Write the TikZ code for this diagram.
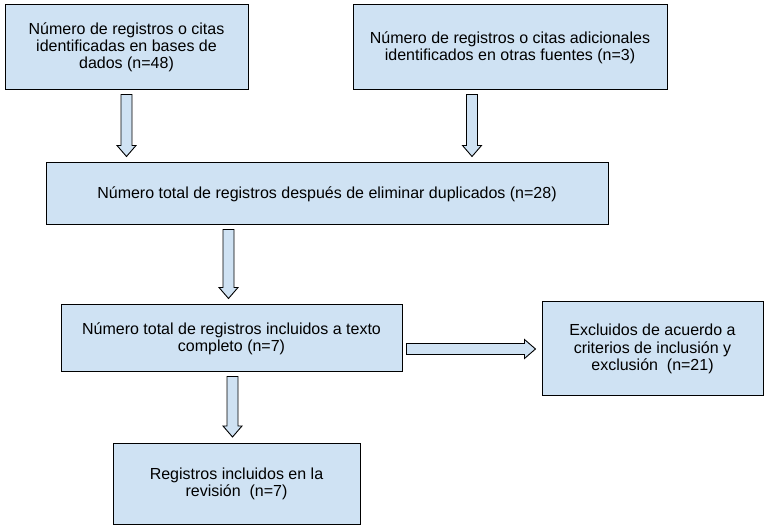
\documentclass[tikz,border=0pt]{standalone}
\usepackage{fontspec}
\setmainfont{Liberation Sans}
\usetikzlibrary{calc}
\definecolor{boxblue}{HTML}{CFE2F3}

\begin{document}
\begin{tikzpicture}[x=1pt,y=1pt]

\tikzstyle{box}=[rectangle, draw=black, line width=1pt, fill=boxblue, align=center, inner sep=0pt, font=\fontsize{16}{17.2}\selectfont]
\tikzstyle{blockarrow}=[draw=black, line width=0.9pt, fill=boxblue,
  to path={let \p1=($(\tikztostart)!4pt!(\tikztotarget)$), \p2=($(\tikztotarget)!6pt!(\tikztostart)$), \p3=($(\p2)!11pt!(\p1)$) in
    ($(\p1)!5.5pt!90:(\p2)$) -- ($(\p3)!5.5pt!-90:(\p1)$) -- ($(\p3)!9.5pt!-90:(\p1)$) -- (\p2)
    -- ($(\p3)!9.5pt!90:(\p1)$) -- ($(\p3)!5.5pt!90:(\p1)$) -- ($(\p1)!5.5pt!-90:(\p2)$) -- cycle}]

\useasboundingbox (0,0) rectangle (765,526);

\node (b1) [box, minimum width=243pt, minimum height=85pt] at (126.5,478.5)
  {Número de registros o citas\\ identificadas en bases de\\ dados (n=48)};

\node (b2) [box, minimum width=314pt, minimum height=85pt] at (510,478.5)
  {Número de registros o citas adicionales\\ identificados en otras fuentes (n=3)};

\node (b3) [box, minimum width=562pt, minimum height=62pt] at (327,332)
  {Número total de registros después de eliminar duplicados (n=28)};

\node (b4) [box, minimum width=341pt, minimum height=67pt] at (231.5,187.5)
  {Número total de registros incluidos a texto\\ completo (n=7)};

\node (b5) [box, minimum width=221pt, minimum height=94pt] at (652.5,177)
  {Excluidos de acuerdo a\\ criterios de inclusión y\\ exclusión~~(n=21)};

\node (b6) [box, minimum width=247pt, minimum height=81pt] at (236.5,42)
  {Registros incluidos en la\\ revisión~~(n=7)};

\coordinate (a2) at ([xshift=-38pt]b2.south);
\coordinate (a3) at ([xshift=-3pt]b4.north);
\coordinate (a5) at ([xshift=-4pt]b6.north);

\draw [blockarrow] (b1.south) to (b1.south |- b3.north);
\draw [blockarrow] (a2) to (a2 |- b3.north);
\draw [blockarrow] (a3 |- b3.south) to (a3);
\draw [blockarrow] (a5 |- b4.south) to (a5);
\draw [blockarrow] (b4.east |- b5.west) to (b5.west);

\end{tikzpicture}
\end{document}
